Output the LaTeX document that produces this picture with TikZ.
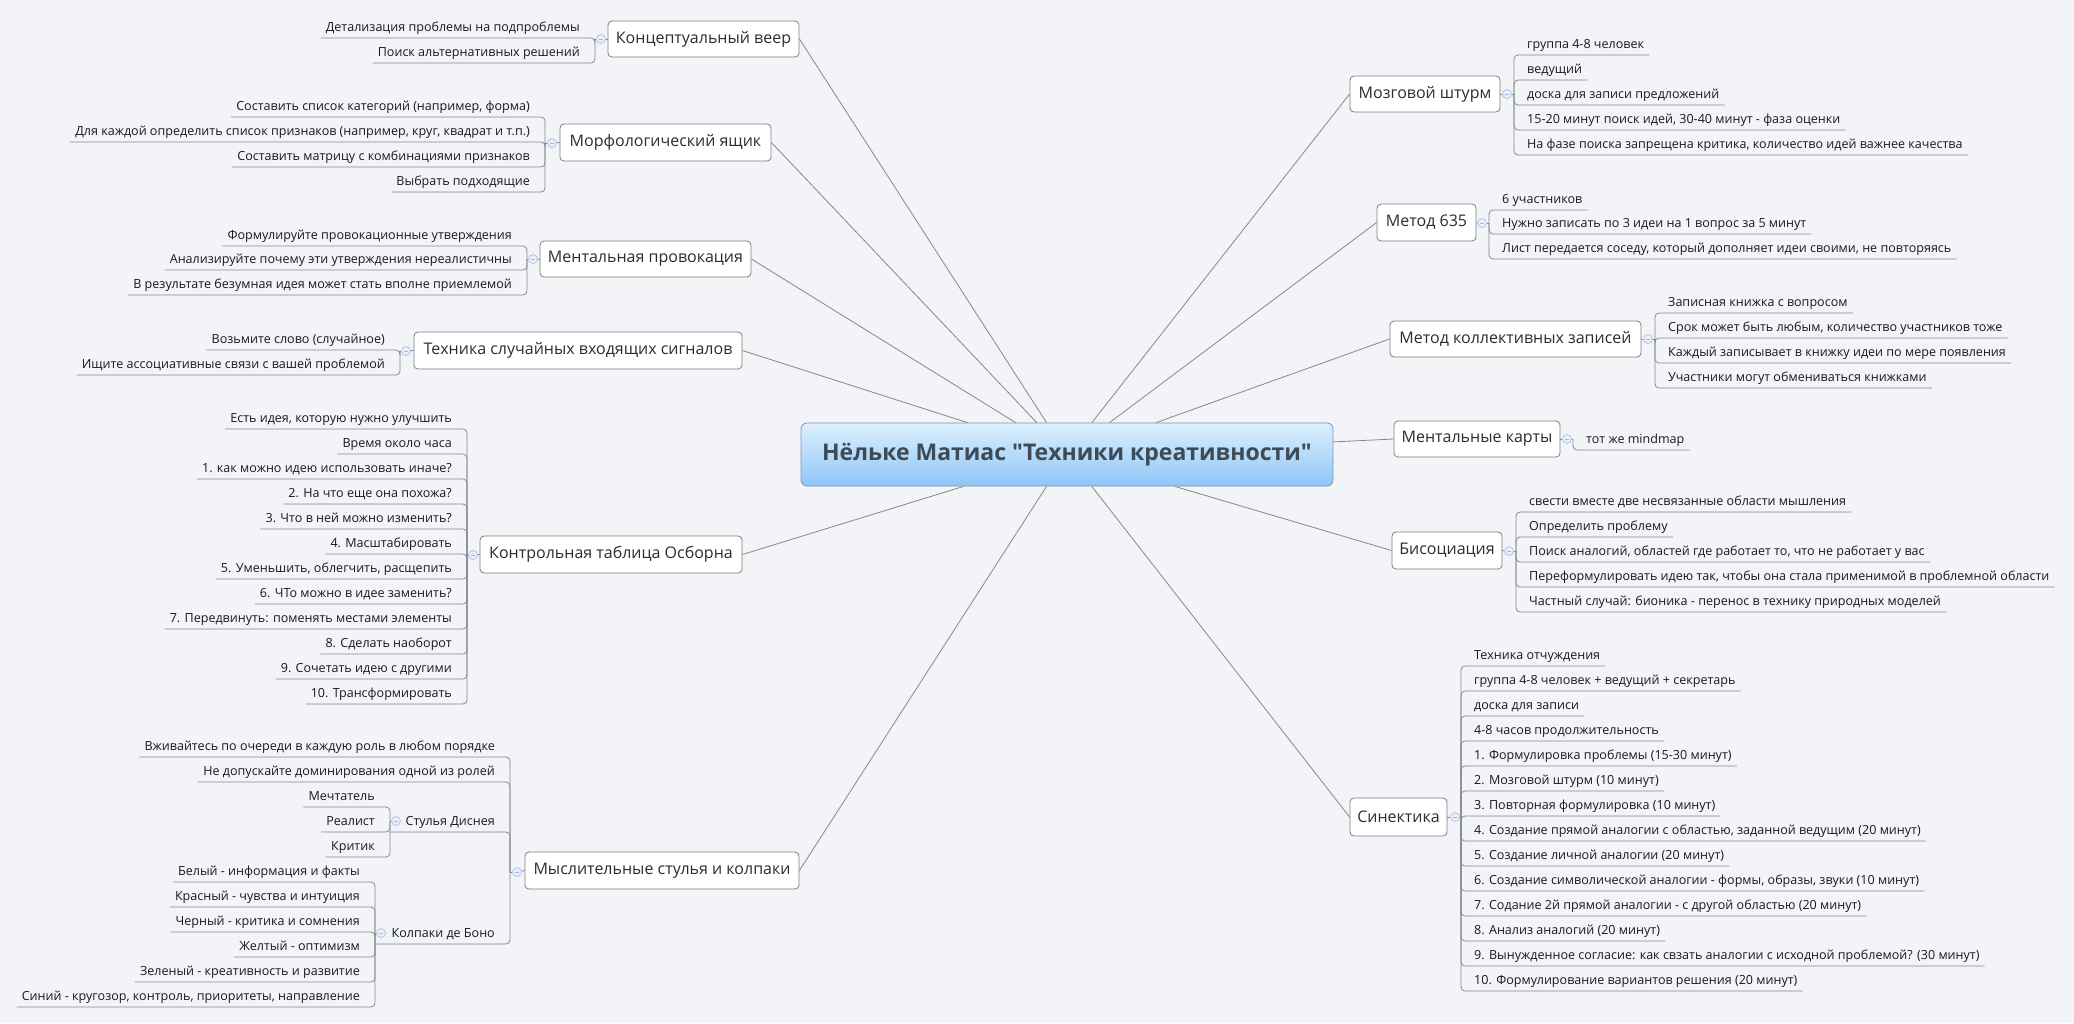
\documentclass[tikz,border=0pt]{standalone}
\usepackage{fontspec}
\setmainfont{Open Sans}[Ligatures=TeXOff]
\definecolor{bg}{RGB}{243,244,248}
\definecolor{linegray}{RGB}{135,135,135}
\definecolor{boxgray}{RGB}{125,125,125}
\definecolor{textdark}{RGB}{25,25,25}
\definecolor{topictext}{RGB}{45,45,45}
\definecolor{markline}{RGB}{160,188,225}
\definecolor{markfill}{RGB}{232,239,250}
\definecolor{ctop}{RGB}{222,239,253}
\definecolor{cbot}{RGB}{142,198,247}
\definecolor{cborder}{RGB}{120,150,180}
\definecolor{ctext}{RGB}{62,74,84}
\newcommand\leaffont{\fontsize{12.55}{14}\selectfont}
\newcommand\LL[5]{\node[leafL] (#1) at (#2,#3) {#4};\draw[conn] (#5) |- (#1.south west);}
\newcommand\RL[5]{\node[leafR] (#1) at (#2,#3) {#4};\draw[conn] (#5) |- (#1.south east);}
\begin{document}
\begin{tikzpicture}[x=1pt,y=-1pt,
  conn/.style={draw=linegray, line width=0.8pt, rounded corners=4pt},
  topic/.style={draw=boxgray, fill=white, rounded corners=4pt, line width=0.8pt,
    font=\fontsize{16}{19}\selectfont, text=topictext, inner sep=0pt, minimum height=36pt},
  central/.style={draw=cborder, rounded corners=6pt, top color=ctop, bottom color=cbot,
    line width=0.8pt, font=\bfseries\fontsize{23}{26}\selectfont, text=ctext,
    inner sep=0pt, minimum width=532pt, minimum height=63pt},
  leafL/.style={anchor=south east, inner xsep=5pt, inner ysep=3.5pt, text height=9pt,
    text depth=3pt, font=\leaffont, text=textdark},
  leafR/.style={anchor=south west, inner xsep=5pt, inner ysep=3.5pt, text height=9pt,
    text depth=3pt, font=\leaffont, text=textdark},
  collapsemark/.style={circle, draw=markline, fill=markfill, minimum size=9pt, inner sep=0pt,
    line width=0.6pt, path picture={\draw[markline, line width=0.8pt]
    ([xshift=-2.2pt]path picture bounding box.center) -- ([xshift=2.2pt]path picture bounding box.center);}}
]
\fill[bg] (0,0) rectangle (2074,1023);
\useasboundingbox (0,0) rectangle (2074,1023);

% central
\node[central] (c) at (1067,454.5) {Нёльке Матиас "Техники креативности"};

% main topics
\node[topic, minimum width=191pt] (tA) at (703.5,39) {Концептуальный веер};
\node[topic, minimum width=211pt, minimum height=37pt] (tB) at (665.5,142.5) {Морфологический ящик};
\node[topic, minimum width=211pt] (tC) at (645.5,259) {Ментальная провокация};
\node[topic, minimum width=328pt, minimum height=37pt] (tD) at (578,350.5) {Техника случайных входящих сигналов};
\node[topic, minimum width=262pt, minimum height=37pt] (tE) at (611,554.5) {Контрольная таблица Осборна};
\node[topic, minimum width=274pt, minimum height=37pt] (tF) at (662,870.5) {Мыслительные стулья и колпаки};
\node[topic, minimum width=150pt] (tG) at (1425,94) {Мозговой штурм};
\node[topic, minimum width=99pt, minimum height=37pt] (tH) at (1426.5,222.5) {Метод 635};
\node[topic, minimum width=251pt] (tI) at (1515.5,339) {Метод коллективных записей};
\node[topic, minimum width=166pt] (tJ) at (1477,439) {Ментальные карты};
\node[topic, minimum width=110pt, minimum height=37pt] (tK) at (1447,550.5) {Бисоциация};
\node[topic, minimum width=97pt, minimum height=38pt] (tL) at (1398.5,817) {Синектика};

% central connectors
\foreach \t in {tA,tB,tC,tD,tE,tF}{\draw[conn] (c) -- (\t.east);}
\foreach \t in {tG,tH,tI,tJ,tK,tL}{\draw[conn] (c) -- (\t.west);}

% ---------- A
\node[collapsemark] (mA) at (601,39) {};
\coordinate (bA) at (595,39);
\draw[conn] (tA.west) -- (mA); \draw[conn] (mA) -- (bA);
\LL{a1}{585}{38}{Детализация проблемы на подпроблемы}{bA}
\LL{a2}{585}{63}{Поиск альтернативных решений}{bA}

% ---------- B
\node[collapsemark] (mB) at (552,143) {};
\coordinate (bB) at (545,143);
\draw[conn] (tB.west) -- (mB); \draw[conn] (mB) -- (bB);
\LL{b1}{535}{117}{Составить список категорий (например, форма)}{bB}
\LL{b2}{535}{142}{Для каждой определить список признаков (например, круг, квадрат и т.п.)}{bB}
\LL{b3}{535}{167}{Составить матрицу с комбинациями признаков}{bB}
\LL{b4}{535}{192}{Выбрать подходящие}{bB}

% ---------- C
\node[collapsemark] (mC) at (533,259) {};
\coordinate (bC) at (527,259);
\draw[conn] (tC.west) -- (mC); \draw[conn] (mC) -- (bC);
\LL{c1}{517}{246}{Формулируйте провокационные утверждения}{bC}
\LL{c2}{517}{270}{Анализируйте почему эти утверждения нереалистичны}{bC}
\LL{c3}{517}{295}{В результате безумная идея может стать вполне приемлемой}{bC}

% ---------- D
\node[collapsemark] (mD) at (406,351) {};
\coordinate (bD) at (400,351);
\draw[conn] (tD.west) -- (mD); \draw[conn] (mD) -- (bD);
\LL{d1}{390}{350}{Возьмите слово (случайное)}{bD}
\LL{d2}{390}{375}{Ищите ассоциативные связи с вашей проблемой}{bD}

% ---------- E
\node[collapsemark] (mE) at (473,555) {};
\coordinate (bE) at (467,555);
\draw[conn] (tE.west) -- (mE); \draw[conn] (mE) -- (bE);
\LL{e1}{457}{429}{Есть идея, которую нужно улучшить}{bE}
\LL{e2}{457}{454}{Время около часа}{bE}
\LL{e3}{457}{479}{1. как можно идею использовать иначе?}{bE}
\LL{e4}{457}{504}{2. На что еще она похожа?}{bE}
\LL{e5}{457}{529}{3. Что в ней можно изменить?}{bE}
\LL{e6}{457}{554}{4. Масштабировать}{bE}
\LL{e7}{457}{579}{5. Уменьшить, облегчить, расщепить}{bE}
\LL{e8}{457}{604}{6. ЧТо можно в идее заменить?}{bE}
\LL{e9}{457}{629}{7. Передвинуть: поменять местами элементы}{bE}
\LL{e10}{457}{654}{8. Сделать наоборот}{bE}
\LL{e11}{457}{679}{9. Сочетать идею с другими}{bE}
\LL{e12}{457}{704}{10. Трансформировать}{bE}

% ---------- F
\node[collapsemark] (mF) at (517,872) {};
\coordinate (bF) at (510,872);
\draw[conn] (tF.west) -- (mF); \draw[conn] (mF) -- (bF);
\LL{f1}{500}{757}{Вживайтесь по очереди в каждую роль в любом порядке}{bF}
\LL{f2}{500}{782}{Не допускайте доминирования одной из ролей}{bF}
% Стулья Диснея
\node[leafL] (sd) at (500,832) {Стулья Диснея};
\coordinate (sdU) at (390,832);
\draw[conn] (bF) |- (sdU);
\node[collapsemark] (msd) at (396,821) {};
\coordinate (bsd) at (390,821);
\draw[conn] (msd) -- (bsd);
\LL{sd1}{380}{807}{Мечтатель}{bsd}
\LL{sd2}{380}{832}{Реалист}{bsd}
\LL{sd3}{380}{857}{Критик}{bsd}
% Колпаки де Боно
\node[leafL] (kb) at (500,944) {Колпаки де Боно};
\coordinate (kbU) at (375,944);
\draw[conn] (bF) |- (kbU);
\node[collapsemark] (mkb) at (381,933) {};
\coordinate (bkb) at (375,933);
\draw[conn] (mkb) -- (bkb);
\LL{kb1}{365}{882}{Белый - информация и факты}{bkb}
\LL{kb2}{365}{907}{Красный - чувства и интуиция}{bkb}
\LL{kb3}{365}{932}{Черный - критика и сомнения}{bkb}
\LL{kb4}{365}{957}{Желтый - оптимизм}{bkb}
\LL{kb5}{365}{982}{Зеленый - креативность и развитие}{bkb}
\LL{kb6}{365}{1007}{Синий - кругозор, контроль, приоритеты, направление}{bkb}

% ---------- G
\node[collapsemark] (mG) at (1507,94) {};
\coordinate (bG) at (1514,94);
\draw[conn] (tG.east) -- (mG); \draw[conn] (mG) -- (bG);
\RL{g1}{1522}{55}{группа 4-8 человек}{bG}
\RL{g2}{1522}{80}{ведущий}{bG}
\RL{g3}{1522}{105}{доска для записи предложений}{bG}
\RL{g4}{1522}{130}{15-20 минут поиск идей, 30-40 минут - фаза оценки}{bG}
\RL{g5}{1522}{155}{На фазе поиска запрещена критика, количество идей важнее качества}{bG}

% ---------- H
\node[collapsemark] (mH) at (1482,223) {};
\coordinate (bH) at (1489,223);
\draw[conn] (tH.east) -- (mH); \draw[conn] (mH) -- (bH);
\RL{h1}{1497}{210}{6 участников}{bH}
\RL{h2}{1497}{234}{Нужно записать по 3 идеи на 1 вопрос за 5 минут}{bH}
\RL{h3}{1497}{259}{Лист передается соседу, который дополняет идеи своими, не повторяясь}{bH}

% ---------- I
\node[collapsemark] (mI) at (1648,339) {};
\coordinate (bI) at (1655,339);
\draw[conn] (tI.east) -- (mI); \draw[conn] (mI) -- (bI);
\RL{i1}{1663}{313}{Записная книжка с вопросом}{bI}
\RL{i2}{1663}{338}{Срок может быть любым, количество участников тоже}{bI}
\RL{i3}{1663}{363}{Каждый записывает в книжку идеи по мере появления}{bI}
\RL{i4}{1663}{388}{Участники могут обмениваться книжками}{bI}

% ---------- J
\node[collapsemark] (mJ) at (1567,439) {};
\coordinate (bJ) at (1573,439);
\draw[conn] (tJ.east) -- (mJ); \draw[conn] (mJ) -- (bJ);
\RL{j1}{1581}{450}{тот же mindmap}{bJ}

% ---------- K
\node[collapsemark] (mK) at (1509,551) {};
\coordinate (bK) at (1516,551);
\draw[conn] (tK.east) -- (mK); \draw[conn] (mK) -- (bK);
\RL{k1}{1524}{512}{свести вместе две несвязанные области мышления}{bK}
\RL{k2}{1524}{537}{Определить проблему}{bK}
\RL{k3}{1524}{562}{Поиск аналогий, областей где работает то, что не работает у вас}{bK}
\RL{k4}{1524}{587}{Переформулировать идею так, чтобы она стала применимой в проблемной области}{bK}
\RL{k5}{1524}{612}{Частный случай: бионика - перенос в технику природных моделей}{bK}

% ---------- L
\node[collapsemark] (mL) at (1455,817) {};
\coordinate (bL) at (1461,817);
\draw[conn] (tL.east) -- (mL); \draw[conn] (mL) -- (bL);
\RL{l1}{1469}{666}{Техника отчуждения}{bL}
\RL{l2}{1469}{691}{группа 4-8 человек + ведущий + секретарь}{bL}
\RL{l3}{1469}{716}{доска для записи}{bL}
\RL{l4}{1469}{741}{4-8 часов продолжительность}{bL}
\RL{l5}{1469}{766}{1. Формулировка проблемы (15-30 минут)}{bL}
\RL{l6}{1469}{791}{2. Мозговой штурм (10 минут)}{bL}
\RL{l7}{1469}{816}{3. Повторная формулировка (10 минут)}{bL}
\RL{l8}{1469}{841}{4. Создание прямой аналогии с областью, заданной ведущим (20 минут)}{bL}
\RL{l9}{1469}{866}{5. Создание личной аналогии (20 минут)}{bL}
\RL{l10}{1469}{891}{6. Создание символической аналогии - формы, образы, звуки (10 минут)}{bL}
\RL{l11}{1469}{916}{7. Содание 2й прямой аналогии - с другой областью (20 минут)}{bL}
\RL{l12}{1469}{941}{8. Анализ аналогий (20 минут)}{bL}
\RL{l13}{1469}{966}{9. Вынужденное согласие: как свзать аналогии с исходной проблемой? (30 минут)}{bL}
\RL{l14}{1469}{991}{10. Формулирование вариантов решения (20 минут)}{bL}
\end{tikzpicture}
\end{document}
